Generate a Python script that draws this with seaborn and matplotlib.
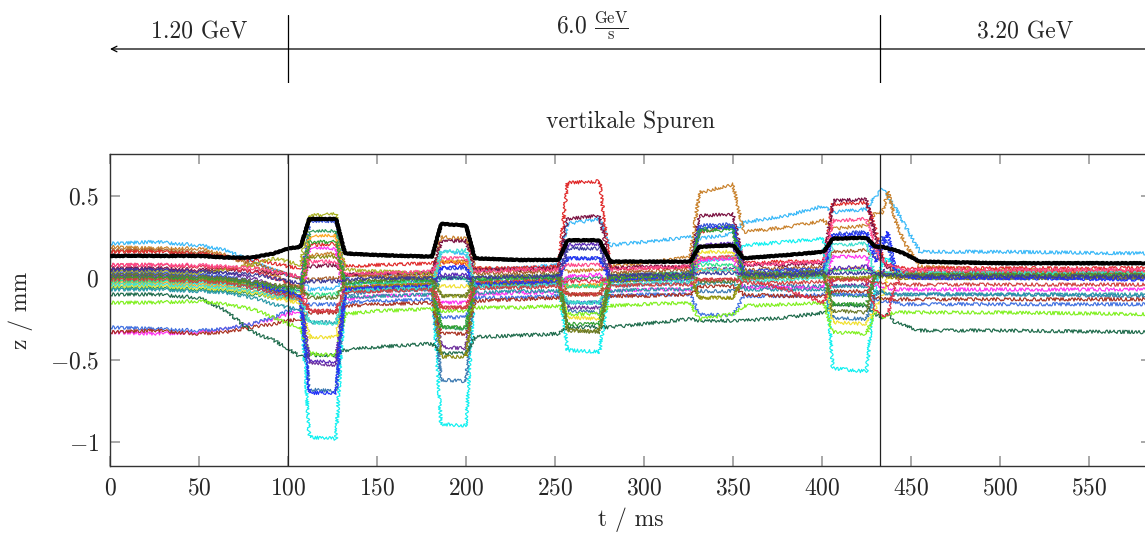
import numpy as np
import pandas as pd
import matplotlib
matplotlib.use("Agg")
import matplotlib.pyplot as plt
import seaborn as sns

T = [0, 25, 50, 65, 80, 92, 100, 107, 112, 127, 132, 150, 181, 186, 200, 205, 230, 252,
     257, 275, 281, 300, 326, 331, 350, 356, 380, 401, 406, 425, 430, 434, 437, 441, 446,
     455, 500, 582]

# black (thick) trace
mean_z = [0.135, 0.135, 0.135, 0.125, 0.125, 0.15, 0.18, 0.19, 0.36, 0.36, 0.15, 0.14, 0.13,
          0.33, 0.32, 0.12, 0.11, 0.11, 0.23, 0.23, 0.10, 0.10, 0.10, 0.19, 0.20, 0.12, 0.14,
          0.16, 0.24, 0.245, 0.19, 0.19, 0.18, 0.17, 0.15, 0.10, 0.09, 0.09]

tr_skyblue = [0.21, 0.22, 0.20, 0.17, 0.10, 0.05, 0.02, 0.00, -0.07, -0.06, 0.01, 0.02, 0.03, 0.16, 0.15, 0.05, 0.06, 0.08, 0.33, 0.36, 0.20, 0.22, 0.25, 0.24, 0.27, 0.34, 0.38, 0.44, 0.40, 0.42, 0.50, 0.54, 0.50, 0.43, 0.33, 0.16, 0.16, 0.15]
tr_peru = [0.19, 0.18, 0.18, 0.14, 0.07, 0.02, -0.03, -0.05, 0.14, 0.15, 0.02, 0.01, 0.02, 0.25, 0.24, 0.06, 0.05, 0.06, 0.04, 0.05, 0.07, 0.09, 0.13, 0.52, 0.57, 0.28, 0.31, 0.35, 0.30, 0.32, 0.40, 0.40, 0.53, 0.36, 0.22, 0.07, 0.05, 0.04]
tr_sienna = [0.17, 0.17, 0.16, 0.13, 0.09, 0.05, 0.02, 0.00, -0.01, 0.00, 0.02, 0.01, 0.00, 0.10, 0.10, 0.03, 0.03, 0.04, -0.10, -0.10, 0.03, 0.04, 0.05, 0.12, 0.13, 0.05, 0.06, 0.07, 0.16, 0.17, 0.12, 0.10, 0.08, 0.05, 0.03, 0.02, 0.02, 0.01]
tr_red = [0.16, 0.16, 0.15, 0.13, 0.11, 0.09, 0.07, 0.06, 0.20, 0.21, 0.07, 0.08, 0.09, 0.09, 0.09, 0.06, 0.06, 0.07, 0.58, 0.59, 0.06, 0.06, 0.07, 0.28, 0.32, 0.09, 0.10, 0.10, 0.45, 0.46, 0.30, 0.12, 0.09, 0.07, 0.06, 0.06, 0.06, 0.06]
tr_maroon = [0.06, 0.06, 0.05, 0.05, 0.04, 0.03, 0.02, 0.01, 0.07, 0.08, 0.02, 0.03, 0.03, 0.22, 0.23, 0.05, 0.05, 0.06, 0.36, 0.38, 0.06, 0.07, 0.07, 0.38, 0.39, 0.08, 0.08, 0.09, 0.47, 0.48, 0.25, 0.10, 0.06, 0.04, 0.04, 0.03, 0.03, 0.03]
tr_purple = [0.05, 0.05, 0.04, 0.03, 0.00, -0.05, -0.08, -0.10, -0.52, -0.53, -0.08, -0.06, -0.05, -0.42, -0.43, -0.04, -0.03, -0.02, -0.18, -0.18, 0.00, 0.01, 0.02, 0.05, 0.06, 0.03, 0.04, 0.05, -0.05, -0.04, 0.00, 0.05, 0.02, 0.02, 0.02, 0.02, 0.02, 0.02]
tr_cyan = [-0.02, -0.02, -0.03, -0.04, -0.06, -0.08, -0.10, -0.11, -0.97, -0.98, -0.08, -0.06, -0.05, -0.89, -0.90, -0.04, -0.03, -0.02, -0.44, -0.45, -0.02, -0.01, 0.00, 0.10, 0.12, 0.20, 0.22, 0.24, -0.55, -0.57, -0.05, 0.10, 0.12, 0.06, 0.03, 0.00, 0.00, 0.00]
tr_steel = [0.00, 0.00, -0.01, -0.03, -0.06, -0.10, -0.12, -0.13, -0.68, -0.69, -0.10, -0.08, -0.07, -0.62, -0.63, -0.06, -0.05, -0.04, -0.20, -0.21, -0.05, -0.04, -0.03, -0.08, -0.08, -0.05, -0.05, -0.05, -0.24, -0.25, -0.10, -0.08, -0.10, -0.10, -0.10, -0.10, -0.10, -0.11]
tr_royal = [0.03, 0.03, 0.02, 0.01, -0.02, -0.05, -0.07, -0.07, 0.34, 0.35, -0.04, -0.03, -0.02, 0.06, 0.06, -0.02, -0.01, 0.00, 0.12, 0.12, 0.01, 0.02, 0.03, 0.32, 0.33, 0.04, 0.05, 0.05, 0.27, 0.28, 0.15, 0.25, 0.20, 0.05, 0.01, 0.00, 0.00, 0.00]
tr_olive = [0.04, 0.04, 0.03, 0.05, 0.08, 0.12, 0.10, 0.08, 0.38, 0.39, 0.05, 0.04, 0.03, -0.11, -0.11, 0.00, 0.00, 0.01, -0.05, -0.05, 0.01, 0.02, 0.02, -0.12, -0.12, 0.00, 0.01, 0.01, 0.00, 0.00, 0.02, 0.03, 0.02, 0.02, 0.01, 0.01, 0.01, 0.01]
tr_seagreen = [-0.06, -0.06, -0.07, -0.08, -0.10, -0.12, -0.12, -0.12, 0.28, 0.29, -0.08, -0.07, -0.06, -0.30, -0.31, -0.05, -0.04, -0.03, 0.00, 0.00, -0.02, -0.01, 0.00, 0.30, 0.31, 0.00, 0.01, 0.02, -0.10, -0.11, 0.00, 0.03, 0.03, 0.02, 0.02, 0.02, 0.02, 0.02]
tr_orange = [-0.03, -0.03, -0.04, -0.05, -0.08, -0.11, -0.13, -0.13, 0.25, 0.26, -0.06, -0.05, -0.04, 0.10, 0.10, -0.04, -0.03, -0.02, -0.05, -0.04, -0.01, 0.00, 0.01, 0.05, 0.05, 0.01, 0.02, 0.03, 0.05, 0.06, 0.04, 0.03, 0.03, 0.03, 0.03, 0.03, 0.03, 0.03]
tr_magenta = [-0.33, -0.34, -0.33, -0.31, -0.28, -0.25, -0.22, -0.20, 0.18, 0.18, -0.13, -0.11, -0.10, -0.15, -0.15, -0.10, -0.09, -0.09, 0.01, 0.02, -0.08, -0.07, -0.07, 0.11, 0.12, -0.06, -0.06, -0.06, 0.13, 0.13, -0.05, -0.05, -0.06, -0.07, -0.07, -0.07, -0.07, -0.07]
tr_blue2 = [-0.30, -0.31, -0.32, -0.31, -0.28, -0.24, -0.20, -0.18, -0.16, -0.16, -0.15, -0.14, -0.13, -0.24, -0.24, -0.12, -0.12, -0.11, -0.15, -0.15, -0.11, -0.10, -0.10, -0.22, -0.23, -0.11, -0.11, -0.10, -0.10, -0.10, -0.13, -0.14, -0.15, -0.15, -0.16, -0.16, -0.16, -0.16]
tr_brown2 = [-0.33, -0.32, -0.34, -0.33, -0.30, -0.28, -0.26, -0.25, -0.21, -0.21, -0.17, -0.16, -0.15, -0.34, -0.34, -0.14, -0.13, -0.12, -0.10, -0.10, -0.11, -0.11, -0.10, -0.05, -0.05, -0.10, -0.11, -0.11, -0.08, -0.08, -0.12, -0.13, -0.13, -0.13, -0.13, -0.13, -0.13, -0.13]
tr_dkgreen = [-0.10, -0.10, -0.12, -0.20, -0.33, -0.38, -0.43, -0.48, -0.47, -0.47, -0.44, -0.42, -0.40, -0.46, -0.46, -0.36, -0.35, -0.34, -0.30, -0.30, -0.30, -0.28, -0.25, -0.26, -0.26, -0.26, -0.24, -0.21, -0.16, -0.17, -0.22, -0.24, -0.22, -0.27, -0.29, -0.32, -0.32, -0.33]
tr_lawn = [-0.15, -0.15, -0.14, -0.16, -0.19, -0.24, -0.28, -0.30, -0.46, -0.47, -0.22, -0.20, -0.19, -0.20, -0.20, -0.18, -0.18, -0.17, -0.22, -0.22, -0.17, -0.16, -0.15, -0.25, -0.22, -0.17, -0.16, -0.15, -0.33, -0.34, -0.20, -0.25, -0.22, -0.21, -0.21, -0.21, -0.21, -0.22]
tr_yellow = [-0.05, -0.05, -0.06, -0.07, -0.09, -0.12, -0.14, -0.15, -0.36, -0.36, -0.07, -0.05, -0.04, -0.05, -0.05, -0.03, -0.02, -0.02, -0.24, -0.25, -0.01, 0.00, 0.01, 0.16, 0.16, 0.01, 0.02, 0.03, -0.27, -0.28, -0.18, -0.10, 0.00, 0.02, 0.02, 0.01, 0.01, 0.01]
tr_teal = [-0.07, -0.07, -0.08, -0.09, -0.12, -0.16, -0.18, -0.19, -0.27, -0.27, -0.12, -0.11, -0.10, 0.00, 0.00, -0.09, -0.08, -0.08, -0.15, -0.15, -0.08, -0.07, -0.07, -0.03, -0.03, -0.07, -0.07, -0.07, -0.05, -0.05, -0.08, -0.09, -0.10, -0.10, -0.10, -0.10, -0.10, -0.10]
tr_spring = [-0.02, -0.02, -0.02, -0.03, -0.05, -0.07, -0.08, -0.08, -0.10, -0.10, -0.04, -0.03, -0.02, 0.00, 0.00, -0.01, 0.00, 0.01, -0.05, -0.05, 0.01, 0.02, 0.03, 0.08, 0.08, 0.03, 0.03, 0.04, 0.05, 0.05, 0.03, 0.02, 0.02, 0.02, 0.02, 0.02, 0.02, 0.02]
tr_crimson = [0.08, 0.08, 0.07, 0.06, 0.04, 0.00, -0.03, -0.05, -0.20, -0.20, -0.06, -0.05, -0.04, -0.18, -0.18, -0.03, -0.02, -0.01, -0.02, -0.02, 0.00, 0.00, 0.01, -0.01, -0.01, 0.00, -0.07, -0.15, -0.01, -0.01, -0.20, -0.24, -0.22, -0.05, 0.03, 0.04, 0.04, 0.04]
tr_violet = [0.01, 0.01, 0.00, -0.01, -0.04, -0.08, -0.10, -0.11, -0.51, -0.51, -0.07, -0.06, -0.05, 0.02, 0.02, -0.04, -0.03, -0.03, 0.20, 0.21, -0.02, -0.01, -0.01, 0.20, 0.21, 0.00, 0.01, 0.01, 0.06, 0.07, 0.02, 0.04, 0.02, 0.01, 0.01, 0.00, 0.00, 0.00]
tr_olive2 = [0.00, 0.00, -0.01, -0.02, -0.04, -0.07, -0.09, -0.10, 0.13, 0.13, -0.06, -0.05, -0.04, -0.48, -0.48, -0.04, -0.03, -0.02, -0.32, -0.32, -0.02, -0.01, 0.00, -0.12, -0.12, 0.00, 0.00, 0.01, 0.00, 0.00, 0.01, 0.01, 0.01, 0.00, 0.00, 0.00, 0.00, 0.00]
tr_blue = [0.02, 0.02, 0.01, 0.00, -0.03, -0.07, -0.09, -0.10, -0.70, -0.70, -0.07, -0.06, -0.05, 0.06, 0.07, -0.04, -0.03, -0.02, 0.12, 0.12, -0.01, 0.00, 0.01, 0.30, 0.31, 0.02, 0.03, 0.04, 0.26, 0.27, 0.10, 0.20, 0.28, 0.05, 0.01, 0.00, 0.00, -0.01]
tr_hotpink = [0.08, 0.08, 0.08, 0.07, 0.06, 0.04, 0.02, 0.01, 0.10, 0.10, 0.02, 0.03, 0.04, 0.12, 0.12, 0.04, 0.05, 0.05, 0.08, 0.08, 0.05, 0.06, 0.07, 0.12, 0.13, 0.08, 0.09, 0.10, 0.35, 0.36, 0.18, 0.10, 0.08, 0.06, 0.05, 0.05, 0.05, 0.05]
tr_turq = [-0.04, -0.04, -0.05, -0.06, -0.08, -0.11, -0.12, -0.12, -0.27, -0.28, -0.08, -0.07, -0.06, 0.16, 0.17, -0.05, -0.05, -0.04, -0.15, -0.15, -0.04, -0.03, -0.02, 0.05, 0.05, -0.02, -0.01, 0.00, 0.20, 0.21, 0.00, 0.03, 0.03, 0.03, 0.03, 0.03, 0.03, 0.03]
tr_green = [0.00, 0.00, 0.00, -0.01, -0.03, -0.05, -0.06, -0.06, 0.22, 0.22, -0.03, -0.02, -0.01, -0.30, -0.30, -0.01, 0.00, 0.00, -0.28, -0.28, 0.00, 0.01, 0.01, 0.29, 0.29, 0.01, 0.02, 0.02, -0.16, -0.16, 0.02, 0.02, 0.02, 0.02, 0.02, 0.02, 0.02, 0.02]
tr_darkolive = [0.02, 0.02, 0.01, 0.00, -0.02, -0.04, -0.05, -0.05, -0.12, -0.12, -0.02, -0.01, 0.00, -0.11, -0.11, 0.01, 0.01, 0.02, -0.32, -0.33, 0.02, 0.02, 0.03, -0.02, -0.02, 0.03, 0.03, 0.04, -0.20, -0.21, 0.03, 0.02, 0.02, 0.02, 0.02, 0.02, 0.02, 0.02]
tr_salmon = [-0.01, -0.01, -0.02, -0.03, -0.06, -0.09, -0.11, -0.12, -0.20, -0.20, -0.09, -0.08, -0.07, -0.18, -0.18, -0.06, -0.06, -0.05, -0.10, -0.10, -0.05, -0.04, -0.04, -0.01, -0.01, -0.03, -0.03, -0.02, -0.01, -0.01, -0.03, -0.03, -0.04, -0.04, -0.04, -0.04, -0.04, -0.04]
tr_indigo = [0.05, 0.05, 0.04, 0.03, 0.02, 0.00, -0.02, -0.03, -0.02, -0.02, -0.01, 0.00, 0.00, 0.00, 0.00, 0.00, 0.01, 0.01, 0.18, 0.18, 0.01, 0.02, 0.02, 0.03, 0.03, 0.02, 0.02, 0.03, 0.03, 0.03, 0.03, 0.02, 0.02, 0.02, 0.01, 0.01, 0.01, 0.01]

trace_names = ["skyblue", "peru", "sienna", "red", "maroon", "purple", "cyan", "steel",
               "royal", "olive", "seagreen", "orange", "magenta", "blue2", "brown2",
               "dkgreen", "lawn", "yellow", "teal", "spring", "crimson", "violet",
               "olive2", "blue", "hotpink", "turq", "green", "darkolive", "salmon", "indigo"]
trace_values = [tr_skyblue, tr_peru, tr_sienna, tr_red, tr_maroon, tr_purple, tr_cyan,
                tr_steel, tr_royal, tr_olive, tr_seagreen, tr_orange, tr_magenta, tr_blue2,
                tr_brown2, tr_dkgreen, tr_lawn, tr_yellow, tr_teal, tr_spring, tr_crimson,
                tr_violet, tr_olive2, tr_blue, tr_hotpink, tr_turq, tr_green, tr_darkolive,
                tr_salmon, tr_indigo]
trace_colors = ["#38b8f8", "#c8802a", "#a8602a", "#e02828", "#7a1040", "#6a2c9a", "#10f0f0",
                "#3a78b0", "#3350d8", "#a8b020", "#2c9a5a", "#ffa520", "#ff30f0", "#4070e0",
                "#a83020", "#1d6a4a", "#80f020", "#f0e030", "#2898a8", "#30e088", "#e0304a",
                "#5a28b8", "#8a8a10", "#2030f8", "#ff4a8a", "#40e0d0", "#30a030", "#6a7a2a",
                "#d04040", "#3a3a9a"]

x_ticks = [0, 50, 100, 150, 200, 250, 300, 350, 400, 450, 500, 550]
y_ticks = [-1, -0.5, 0, 0.5]
y_tick_labels = [r"$-1$", r"$-0.5$", r"$0$", r"$0.5$"]
phase_bounds = [100, 432.5]
phase_labels = ["1.20 GeV", r"6.0 $\frac{\mathrm{GeV}}{\mathrm{s}}$", "3.20 GeV"]
phase_label_x = [50, 271, 514]

sns.set_style("ticks")
plt.rcParams["font.family"] = "serif"
plt.rcParams["font.serif"] = ["cmr10"]
plt.rcParams["mathtext.fontset"] = "cm"
plt.rcParams["axes.unicode_minus"] = False
FS = 17

df = pd.DataFrame({
    "t": np.tile(T, len(trace_names)),
    "z": np.concatenate([np.asarray(v, float) for v in trace_values]),
    "trace": np.repeat(trace_names, len(T)),
})

fig = plt.figure(figsize=(11.45, 5.34), dpi=100)
ax = fig.add_axes([110 / 1145, 68 / 534, 1041.3 / 1145, 312 / 534])
XMAX = 585
sns.lineplot(data=df, x="t", y="z", hue="trace", palette=dict(zip(trace_names, trace_colors)),
             estimator=None, sort=False, legend=False, linewidth=0.85, ax=ax)
for ln in ax.lines:
    ln.set_sketch_params(scale=1.7, length=3.5, randomness=3.0)
sns.lineplot(x=T, y=mean_z, color="black", linewidth=2.8, ax=ax, zorder=10)
ax.lines[-1].set_sketch_params(scale=0.5, length=4.0, randomness=2.0)

for b in phase_bounds:
    ax.axvline(b, color="#222222", lw=0.9, zorder=11)

ax.set_xlim(0, XMAX)
ax.set_ylim(-1.146, 0.756)
ax.set_xticks(x_ticks)
ax.set_xticklabels([f"${v}$" for v in x_ticks])
ax.set_yticks(y_ticks)
ax.set_yticklabels(y_tick_labels)
ax.tick_params(direction="in", length=7, width=1.2, color="#9a9a9a",
               top=True, right=True, labelsize=FS, pad=8)
for s in ax.spines.values():
    s.set_color("#333333")
    s.set_linewidth(1.0)
ax.set_xlabel("t / ms", fontsize=FS, labelpad=6)
ax.set_ylabel("z / mm", fontsize=FS, labelpad=12)
ax.set_title("vertikale Spuren", fontsize=FS, pad=19)

# phase annotation strip on top
axt = fig.add_axes([110 / 1145, (534 - 83) / 534, 1041.3 / 1145, 68 / 534])
axt.set_xlim(0, XMAX)
axt.set_ylim(0, 1)
axt.axis("off")
axt.annotate("", xy=(0, 0.5), xytext=(XMAX + 20, 0.5),
             arrowprops=dict(arrowstyle="->", lw=0.9, color="black", shrinkA=0, shrinkB=0),
             annotation_clip=False)
for b in phase_bounds:
    axt.plot([b, b], [0, 1], color="black", lw=0.9)
for lbl, xp in zip(phase_labels, phase_label_x):
    yy = 0.84 if "frac" in lbl else 0.75
    axt.text(xp, yy, lbl, ha="center", va="center", fontsize=FS)

fig.savefig("out.png", dpi=100)
